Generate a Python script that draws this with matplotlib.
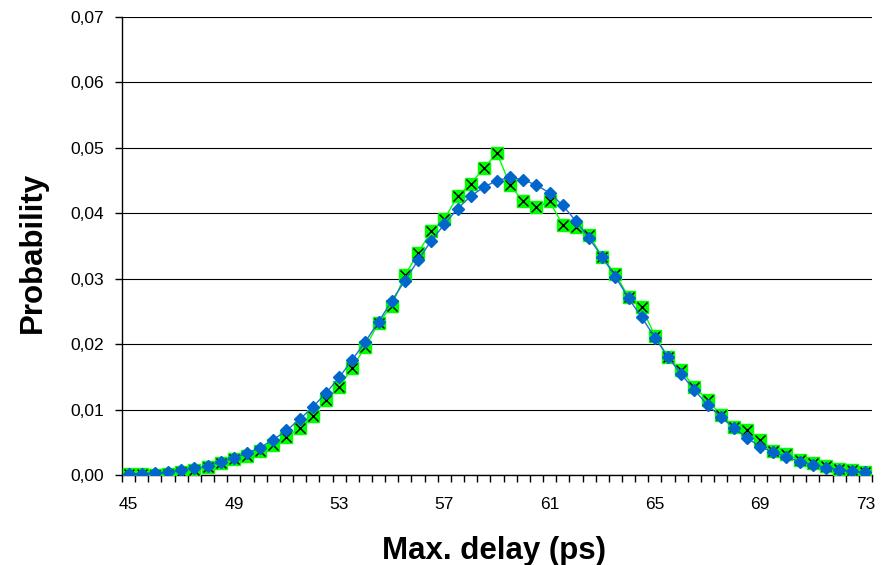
import numpy as np
import matplotlib
matplotlib.use("Agg")
import matplotlib.pyplot as plt

plt.rcParams['font.family'] = ['Liberation Sans', 'DejaVu Sans']

# delay categories, 45 .. 73 ps in 0.5 ps steps
delay = [45 + 0.5 * k for k in range(57)]

model_prob = [0.0002, 0.0002, 0.0003, 0.0004, 0.0008, 0.0010, 0.0014, 0.0020, 0.0026, 0.0033,
              0.0042, 0.0054, 0.0068, 0.0085, 0.0104, 0.0125, 0.0149, 0.0176, 0.0204, 0.0234,
              0.0266, 0.0297, 0.0328, 0.0358, 0.0383, 0.0407, 0.0426, 0.0440, 0.0450, 0.0455,
              0.0451, 0.0443, 0.0431, 0.0412, 0.0388, 0.0362, 0.0333, 0.0303, 0.0270, 0.0241,
              0.0210, 0.0180, 0.0154, 0.0130, 0.0107, 0.0089, 0.0072, 0.0057, 0.0043, 0.0035,
              0.0028, 0.0020, 0.0016, 0.0011, 0.0008, 0.0006, 0.0004]

mc_prob = [0.0001, 0.0001, 0.0000, 0.0002, 0.0004, 0.0007, 0.0012, 0.0018, 0.0024, 0.0029,
           0.0037, 0.0046, 0.0058, 0.0072, 0.0090, 0.0115, 0.0134, 0.0164, 0.0196, 0.0232,
           0.0259, 0.0305, 0.0339, 0.0373, 0.0391, 0.0426, 0.0445, 0.0469, 0.0492, 0.0443,
           0.0418, 0.0409, 0.0418, 0.0382, 0.0379, 0.0367, 0.0333, 0.0307, 0.0272, 0.0256,
           0.0213, 0.0180, 0.0160, 0.0134, 0.0115, 0.0092, 0.0074, 0.0069, 0.0053, 0.0037,
           0.0032, 0.0023, 0.0018, 0.0013, 0.0009, 0.0008, 0.0005]

y_ticks = [0.00, 0.01, 0.02, 0.03, 0.04, 0.05, 0.06, 0.07]

x = np.arange(len(delay))

fig = plt.figure(figsize=(8.84, 5.65), dpi=100)
ax = fig.add_axes([0.138, 0.1593, 0.8484, 0.8107])

# green squares with black crosses
ax.plot(x, mc_prob, color='#00FF00', linewidth=1, marker='s', markersize=8.6,
        markerfacecolor='#00FF00', markeredgecolor='#00FF00', zorder=3)
ax.plot(x, mc_prob, linestyle='none', marker='x', markersize=7, color='black',
        markeredgewidth=1, zorder=4)
# blue diamonds
ax.plot(x, model_prob, color='#1F6FD0', linewidth=1, marker='D', markersize=6.5,
        markerfacecolor='#0066CC', markeredgecolor='#0066CC', zorder=5)

ax.set_xlim(-0.5, len(delay) - 0.5)
ax.set_ylim(0, 0.07)

ax.set_yticks(y_ticks)
ax.set_yticklabels([f"{v:.2f}".replace('.', ',') for v in y_ticks], fontsize=12.5)
ax.yaxis.grid(True, color='black', linewidth=0.8)
ax.set_axisbelow(True)

lab_idx = x[::8]
ax.set_xticks(lab_idx)
ax.set_xticklabels([f"{delay[i]:g}" for i in lab_idx], fontsize=12.5)
ax.set_xticks(np.arange(-0.5, len(delay)), minor=True)
ax.tick_params(axis='x', which='major', length=0, pad=16)
ax.tick_params(axis='x', which='minor', length=5, width=1, direction='out')
ax.tick_params(axis='y', length=5, width=1, direction='out', pad=8)

for s in ['top', 'right']:
    ax.spines[s].set_visible(False)
for s in ['left', 'bottom']:
    ax.spines[s].set_color('black')
    ax.spines[s].set_linewidth(1)

ax.set_xlabel('Max. delay (ps)', fontsize=22.5, fontweight='bold')
ax.set_ylabel('Probability', fontsize=22.5, fontweight='bold')
ax.xaxis.set_label_coords(0.496, -0.133)
ax.yaxis.set_label_coords(-0.099, 0.485)

fig.savefig('out.png', dpi=100)
